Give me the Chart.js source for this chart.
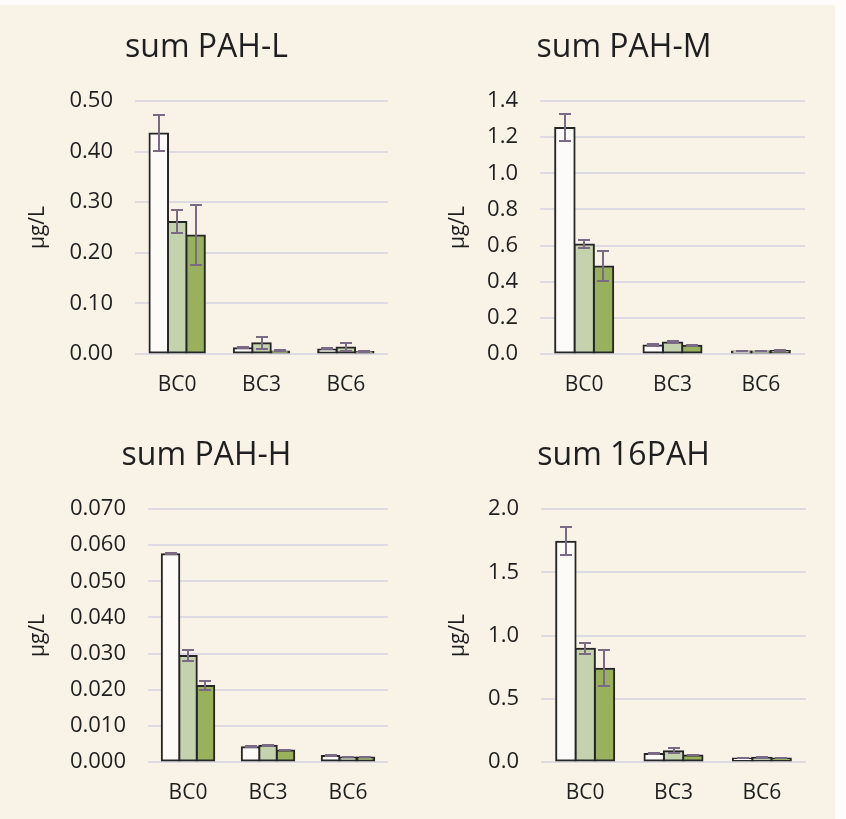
<!DOCTYPE html>
<html>
<head>
<meta charset="utf-8">
<script src="https://cdn.jsdelivr.net/npm/chart.js@4.4.1/dist/chart.umd.min.js"></script>
<style>
  html, body { margin: 0; padding: 0; background: #fdfcfa; }
  body { width: 846px; height: 819px; position: relative; overflow: hidden; }
  #sheet { position: absolute; left: 0; top: 5px; width: 835px; height: 814px; background: #f8f2e7; }
  .panel { position: absolute; }
</style>
</head>
<body>
<div id="sheet"></div>
<canvas id="cL" class="panel" style="left:0px;top:0px" width="413" height="410"></canvas>
<canvas id="cM" class="panel" style="left:423px;top:0px" width="402" height="410"></canvas>
<canvas id="cH" class="panel" style="left:0px;top:408px" width="413" height="410"></canvas>
<canvas id="c16" class="panel" style="left:423px;top:408px" width="402" height="410"></canvas>
<script>
// Sampling stations
const categories = ['BC0', 'BC3', 'BC6'];

// Light PAHs (µg/L): mean and standard deviation for the three treatments
const pahL_a = [0.437, 0.0125, 0.010];
const pahL_b = [0.262, 0.022, 0.014];
const pahL_c = [0.235, 0.006, 0.005];
const pahL_aErr = [0.036, 0.001, 0.001];
const pahL_bErr = [0.022, 0.012, 0.008];
const pahL_cErr = [0.060, 0.001, 0.001];

// Medium PAHs
const pahM_a = [1.253, 0.050, 0.017];
const pahM_b = [0.609, 0.066, 0.017];
const pahM_c = [0.487, 0.048, 0.020];
const pahM_aErr = [0.075, 0.003, 0.002];
const pahM_bErr = [0.020, 0.004, 0.002];
const pahM_cErr = [0.084, 0.003, 0.003];

// Heavy PAHs
const pahH_a = [0.0576, 0.0042, 0.0018];
const pahH_b = [0.0295, 0.0046, 0.0014];
const pahH_c = [0.0212, 0.0033, 0.0014];
const pahH_aErr = [0.0001, 0.0001, 0.0002];
const pahH_bErr = [0.0016, 0.0002, 0.0001];
const pahH_cErr = [0.0013, 0.0001, 0.0001];

// Sum of the 16 priority PAHs
const pah16_a = [1.745, 0.068, 0.032];
const pah16_b = [0.900, 0.089, 0.037];
const pah16_c = [0.742, 0.055, 0.032];
const pah16_aErr = [0.110, 0.004, 0.003];
const pah16_bErr = [0.044, 0.020, 0.006];
const pah16_cErr = [0.145, 0.003, 0.003];

// Y-axis tick labels
const ticksL = ['0.00', '0.10', '0.20', '0.30', '0.40', '0.50'];
const ticksM = ['0.0', '0.2', '0.4', '0.6', '0.8', '1.0', '1.2', '1.4'];
const ticksH = ['0.000', '0.010', '0.020', '0.030', '0.040', '0.050', '0.060', '0.070'];
const ticks16 = ['0.0', '0.5', '1.0', '1.5', '2.0'];

const FONT = "'Open Sans', 'Noto Sans', sans-serif";
const TEXT = '#1f1f1f';
const FILLS = ['#fdfbf7', '#c4d3ad', '#99b15c'];

// Whiskers drawn over the bars from each dataset's `errors` array
const errorBars = {
  id: 'errorBars',
  afterDatasetsDraw(chart) {
    const { ctx } = chart;
    const y = chart.scales.y;
    ctx.save();
    ctx.strokeStyle = '#7b6a84';
    ctx.lineWidth = 2;
    chart.data.datasets.forEach((ds, di) => {
      const meta = chart.getDatasetMeta(di);
      meta.data.forEach((bar, i) => {
        const v = ds.data[i], e = ds.errors[i];
        const yt = Math.round(y.getPixelForValue(v + e));
        const yb = Math.round(y.getPixelForValue(v - e));
        const x = Math.round(bar.x);
        ctx.beginPath();
        ctx.moveTo(x, yt); ctx.lineTo(x, yb);
        ctx.moveTo(x - 6, yt); ctx.lineTo(x + 6, yt);
        ctx.moveTo(x - 6, yb); ctx.lineTo(x + 6, yb);
        ctx.stroke();
      });
    });
    ctx.restore();
  }
};

function makePanel(id, title, series, errors, max, step, tickLabels, geo) {
  new Chart(document.getElementById(id), {
    type: 'bar',
    data: {
      labels: categories,
      datasets: series.map((d, k) => ({
        label: 'T' + (k + 1),
        data: d,
        errors: errors[k],
        backgroundColor: FILLS[k],
        borderColor: '#262626',
        borderWidth: 2,
        borderSkipped: false,
        inflateAmount: 0.5,
        categoryPercentage: 0.655,
        barPercentage: 1.06
      }))
    },
    options: {
      responsive: false,
      animation: false,
      devicePixelRatio: 1,
      layout: { padding: { left: geo.padLeft, right: geo.padRight, top: 0, bottom: 0 } },
      plugins: {
        legend: { display: false },
        tooltip: { enabled: false },
        title: {
          display: true,
          text: title,
          color: TEXT,
          font: { family: FONT, size: 32, weight: 'normal', lineHeight: 1.2 },
          padding: { top: 29, bottom: 33.6 }
        }
      },
      scales: {
        x: {
          grid: { display: false },
          border: { display: false },
          ticks: { color: TEXT, font: { family: FONT, size: 21 }, padding: 10 },
          afterFit: s => { s.height = 56; }
        },
        y: {
          min: 0,
          max: max,
          ticks: {
            stepSize: step,
            color: TEXT,
            padding: 22,
            font: { family: FONT, size: 22 },
            callback: (v, i) => tickLabels[i]
          },
          grid: { color: '#dedae1', lineWidth: 2, drawTicks: false },
          border: { display: false },
          title: {
            display: true,
            text: 'µg/L',
            color: TEXT,
            font: { family: FONT, size: 21 },
            padding: { top: geo.titlePad, bottom: 0 }
          },
          afterFit: s => { s.width = geo.axisWidth; }
        }
      }
    },
    plugins: [errorBars]
  });
}

makePanel('cL', 'sum PAH-L', [pahL_a, pahL_b, pahL_c], [pahL_aErr, pahL_bErr, pahL_cErr],
  0.5, 0.1, ticksL, { padLeft: 25, padRight: 25, axisWidth: 110, titlePad: 0 });
makePanel('cM', 'sum PAH-M', [pahM_a, pahM_b, pahM_c], [pahM_aErr, pahM_bErr, pahM_cErr],
  1.4, 0.2, ticksM, { padLeft: 20, padRight: 20, axisWidth: 97, titlePad: 2 });
makePanel('cH', 'sum PAH-H', [pahH_a, pahH_b, pahH_c], [pahH_aErr, pahH_bErr, pahH_cErr],
  0.07, 0.01, ticksH, { padLeft: 25, padRight: 25, axisWidth: 123, titlePad: 0 });
makePanel('c16', 'sum 16PAH', [pah16_a, pah16_b, pah16_c], [pah16_aErr, pah16_bErr, pah16_cErr],
  2.0, 0.5, ticks16, { padLeft: 18, padRight: 19, axisWidth: 100, titlePad: 4 });
</script>
</body>
</html>
